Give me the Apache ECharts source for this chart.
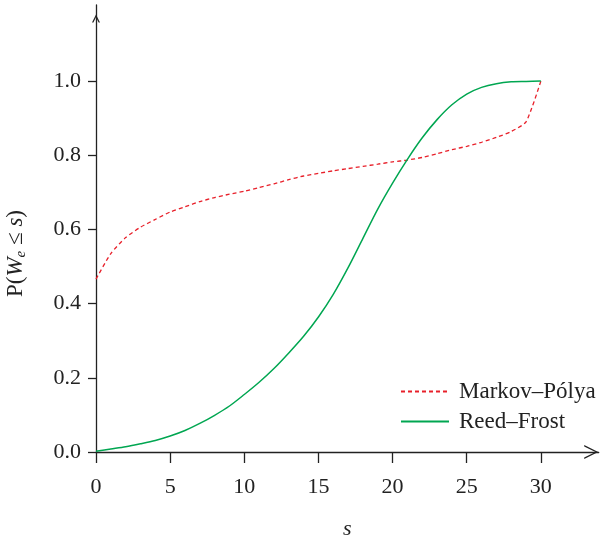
<!DOCTYPE html>
<html>
<head>
<meta charset="utf-8">
<script src="https://cdn.jsdelivr.net/npm/echarts@6/dist/echarts.min.js"></script>
<style>
  html, body { margin: 0; padding: 0; background: #fff; }
  #chart_container { width: 600px; height: 538px; }
</style>
</head>
<body>
<div id="chart_container"></div>
<script>
// s = 0 .. 30
var s_values = [0, 1, 2, 3, 4, 5, 6, 7, 8, 9, 10, 11, 12, 13, 14, 15,
  16, 17, 18, 19, 20, 21, 22, 23, 24, 25, 26, 27, 28, 29, 30];

var markov_polya = [0.466, 0.535, 0.578, 0.606, 0.627, 0.647, 0.661, 0.675, 0.686, 0.695,
  0.703, 0.713, 0.723, 0.734, 0.744, 0.751, 0.758, 0.764, 0.770, 0.776,
  0.782, 0.787, 0.794, 0.804, 0.815, 0.824, 0.835, 0.848, 0.864, 0.890, 1.0];

var reed_frost = [0.002, 0.008, 0.014, 0.022, 0.031, 0.043, 0.058, 0.077, 0.099, 0.124,
  0.155, 0.188, 0.225, 0.267, 0.312, 0.364, 0.425, 0.497, 0.576, 0.655,
  0.725, 0.789, 0.847, 0.896, 0.936, 0.965, 0.983, 0.993, 0.998, 0.999, 1.0];

var x_ticks = [0, 5, 10, 15, 20, 25, 30];
var y_ticks = [0, 0.2, 0.4, 0.6, 0.8, 1.0];

var series_names = ['Markov–Pólya', 'Reed–Frost'];

var font = '"Liberation Serif", "Times New Roman", serif';
var ink = '#222';

var zip = function (xs, ys) {
  var out = [];
  for (var i = 0; i < xs.length; i++) {
    out.push([xs[i], ys[i]]);
  }
  return out;
};

var chart = echarts.init(document.getElementById('chart_container'));

var option = {
  animation: false,
  backgroundColor: '#fff',
  grid: {
    left: 96,
    right: 1.3,
    top: 5,
    bottom: 86,
    outerBoundsMode: 'none',
    containLabel: false
  },
  legend: {
    orient: 'vertical',
    left: 400,
    top: 380,
    padding: 0,
    itemWidth: 48,
    itemHeight: 14,
    itemGap: 7,
    data: series_names,
    itemStyle: { opacity: 0 },
    textStyle: {
      fontFamily: font,
      fontSize: 23,
      color: ink,
      padding: [0, 0, 0, 5]
    }
  },
  xAxis: {
    type: 'value',
    min: 0,
    max: 33.9,
    name: 's',
    nameLocation: 'middle',
    nameGap: 66,
    nameTextStyle: {
      fontFamily: font,
      fontSize: 22,
      fontStyle: 'italic',
      color: ink
    },
    axisLine: {
      show: true,
      onZero: false,
      symbol: ['none', 'path://M0,20 L10,0 L20,20 L18,20 L10,4 L2,20 Z'],
      symbolSize: [14, 15],
      symbolOffset: [0, -7.5],
      lineStyle: { color: ink, width: 1.3 }
    },
    axisTick: {
      show: true,
      inside: false,
      length: 11,
      customValues: x_ticks,
      lineStyle: { color: ink, width: 1.3 }
    },
    axisLabel: {
      show: true,
      margin: 24,
      customValues: x_ticks,
      fontFamily: font,
      fontSize: 22,
      color: ink
    },
    splitLine: { show: false }
  },
  yAxis: {
    type: 'value',
    min: 0,
    max: 1.205,
    name: '{n|P(}{i|W}{sub|e}{n| ≤ }{i|s}{n|)}',
    nameLocation: 'middle',
    nameGap: 67,
    nameRotate: 90,
    nameTextStyle: {
      padding: [0, 50, 0, 0],
      rich: {
        n: { fontFamily: font, fontSize: 23, color: ink },
        i: { fontFamily: font, fontSize: 23, fontStyle: 'italic', color: ink },
        sub: { fontFamily: font, fontSize: 15, fontStyle: 'italic', color: ink, padding: [12, 0, 0, 0] }
      }
    },
    axisLine: {
      show: true,
      onZero: false,
      symbol: ['none', 'path://M0,20 L10,0 L20,20 L16.5,20 L10,7 L3.5,20 Z'],
      symbolSize: [8, 27],
      symbolOffset: [0, -13.5],
      lineStyle: { color: ink, width: 1.3 }
    },
    axisTick: {
      show: true,
      inside: false,
      length: 8,
      customValues: y_ticks,
      lineStyle: { color: ink, width: 1.3 }
    },
    axisLabel: {
      show: true,
      margin: 15,
      customValues: y_ticks,
      fontFamily: font,
      fontSize: 22,
      color: ink,
      formatter: function (v) { return v.toFixed(1); }
    },
    splitLine: { show: false }
  },
  series: [
    {
      name: series_names[0],
      type: 'line',
      symbol: 'none',
      smooth: 0.2,
      data: zip(s_values, markov_polya),
      itemStyle: { color: '#e8202a' },
      lineStyle: { color: '#e8202a', width: 1.3, type: [4, 3] }
    },
    {
      name: series_names[1],
      type: 'line',
      symbol: 'none',
      smooth: 0.3,
      data: zip(s_values, reed_frost),
      itemStyle: { color: '#00a651' },
      lineStyle: { color: '#00a651', width: 1.5 }
    }
  ]
};

chart.setOption(option);
</script>
</body>
</html>
